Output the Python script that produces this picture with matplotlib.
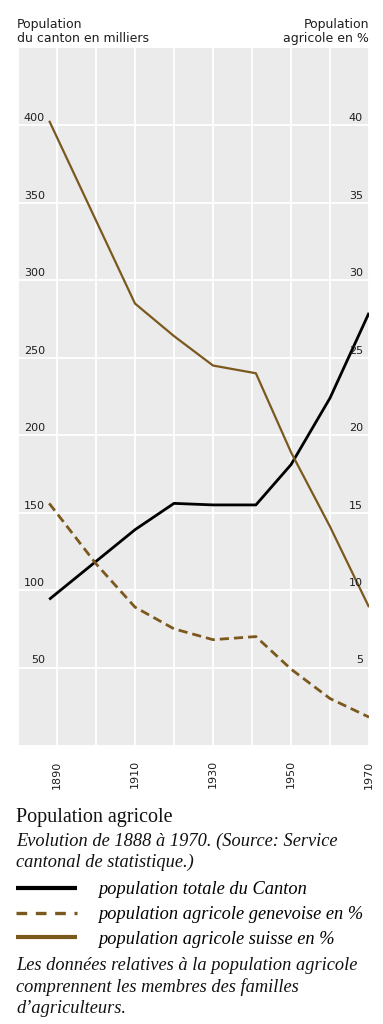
"""Population agricole du canton de Genève, 1888-1970."""

import matplotlib

matplotlib.use("Agg")

import matplotlib.pyplot as plt
import matplotlib.transforms as mtransforms
from matplotlib.lines import Line2D

# Data
years_total = [1888, 1910, 1920, 1930, 1941, 1950, 1960, 1970]
pop_total = [94, 139, 156, 155, 155, 181, 224, 279]  # milliers

years_ge = [1888, 1900, 1910, 1920, 1930, 1941, 1950, 1960, 1970]
agri_ge = [15.6, 11.7, 8.9, 7.5, 6.8, 7.0, 4.9, 3.0, 1.8]  # %

years_ch = [1888, 1910, 1920, 1930, 1941, 1950, 1960, 1970]
agri_ch = [40.3, 28.5, 26.4, 24.5, 24.0, 18.9, 14.1, 8.9]  # %

grid_years = list(range(1880, 1971, 10))
year_labels = ["", "1890", "", "1910", "", "1930", "", "1950", "", "1970"]
left_ticks = [50, 100, 150, 200, 250, 300, 350, 400]
right_ticks = [5, 10, 15, 20, 25, 30, 35, 40]

legend_labels = [
    "population totale du Canton",
    "population agricole genevoise en %",
    "population agricole suisse en %",
]
caption_lines = [
    "Evolution de 1888 à 1970. (Source: Service",
    "cantonal de statistique.)",
]
note_lines = [
    "Les données relatives à la population agricole",
    "comprennent les membres des familles",
    "d’agriculteurs.",
]

BROWN = "#7b591e"
BG = "#ebebeb"
INK = "#1e1e1e"
SANS = ["DejaVu Sans"]
SERIF = ["Liberation Serif", "DejaVu Serif"]

W, H = 383, 1024
fig = plt.figure(figsize=(W / 100, H / 100), dpi=100)
fig.patch.set_facecolor("white")

ax = fig.add_axes([18 / W, 1 - 745 / H, 351 / W, 697 / H])
ax.set_facecolor(BG)
ax.set_xlim(1880, 1970)
ax.set_ylim(0, 450)
ax.set_xticks(grid_years)
ax.set_xticklabels(year_labels, rotation=90, fontsize=8, family=SANS, color=INK)
ax.set_yticks(left_ticks)
ax.set_yticklabels([])
ax.tick_params(length=0, pad=11)
ax.grid(True, color="white", lw=1.3)
ax.set_axisbelow(True)
for s in ax.spines.values():
    s.set_visible(False)

ax2 = ax.twinx()
ax2.set_ylim(0, 45)
ax2.set_yticks([])
for s in ax2.spines.values():
    s.set_visible(False)

ax.plot(years_total, pop_total, color="black", lw=2.0, solid_capstyle="butt", zorder=3)
ax2.plot(years_ch, agri_ch, color=BROWN, lw=1.6, solid_capstyle="butt")
ax2.plot(years_ge, agri_ge, color=BROWN, lw=2.0, dashes=(3.3, 1.8))

# tick values written inside the plot, just above each grid line
off = mtransforms.offset_copy(ax.transData, fig=fig, x=0, y=1.5, units="points")
lt = mtransforms.blended_transform_factory(ax.transAxes, off)
for v in left_ticks:
    ax.text(0.077, v, str(v), transform=lt, ha="right", va="bottom",
            fontsize=8, family=SANS, color=INK)
off2 = mtransforms.offset_copy(ax2.transData, fig=fig, x=0, y=1.5, units="points")
rt = mtransforms.blended_transform_factory(ax2.transAxes, off2)
for v in right_ticks:
    ax2.text(0.983, v, str(v), transform=rt, ha="right", va="bottom",
             fontsize=8, family=SANS, color=INK)

# axis headers
for i, (lt_txt, rt_txt) in enumerate([("Population", "Population"),
                                      ("du canton en milliers", "agricole en %")]):
    yb = 1 - (28 + 14 * i) / H
    fig.text(17 / W, yb, lt_txt, ha="left", va="baseline", fontsize=9,
             family=SANS, color=INK)
    fig.text(369 / W, yb, rt_txt, ha="right", va="baseline", fontsize=9,
             family=SANS, color=INK)

# caption
fig.text(16 / W, 1 - 822 / H, "Population agricole", ha="left", va="baseline",
         fontsize=14.5, family=SERIF, color="#111111")
for i, line in enumerate(caption_lines):
    fig.text(16 / W, 1 - (846 + 21 * i) / H, line, ha="left", va="baseline",
             fontsize=13.2, family=SERIF, style="italic", color="#111111")

handles = [
    Line2D([], [], color="black", lw=3.0, solid_capstyle="butt"),
    Line2D([], [], color=BROWN, lw=2.4, dashes=(3.2, 2.6)),
    Line2D([], [], color=BROWN, lw=3.0, solid_capstyle="butt"),
]
fig.legend(handles, legend_labels, loc="upper left", bbox_to_anchor=(9 / W, 1 - 874 / H),
           frameon=False, handlelength=3.3, handletextpad=1.15, labelspacing=0.42,
           prop={"family": SERIF, "style": "italic", "size": 13.2}, borderaxespad=0)

for i, line in enumerate(note_lines):
    fig.text(16 / W, 1 - (970 + 21.5 * i) / H, line, ha="left", va="baseline",
             fontsize=13.2, family=SERIF, style="italic", color="#111111")

fig.savefig("out.png", dpi=100)
